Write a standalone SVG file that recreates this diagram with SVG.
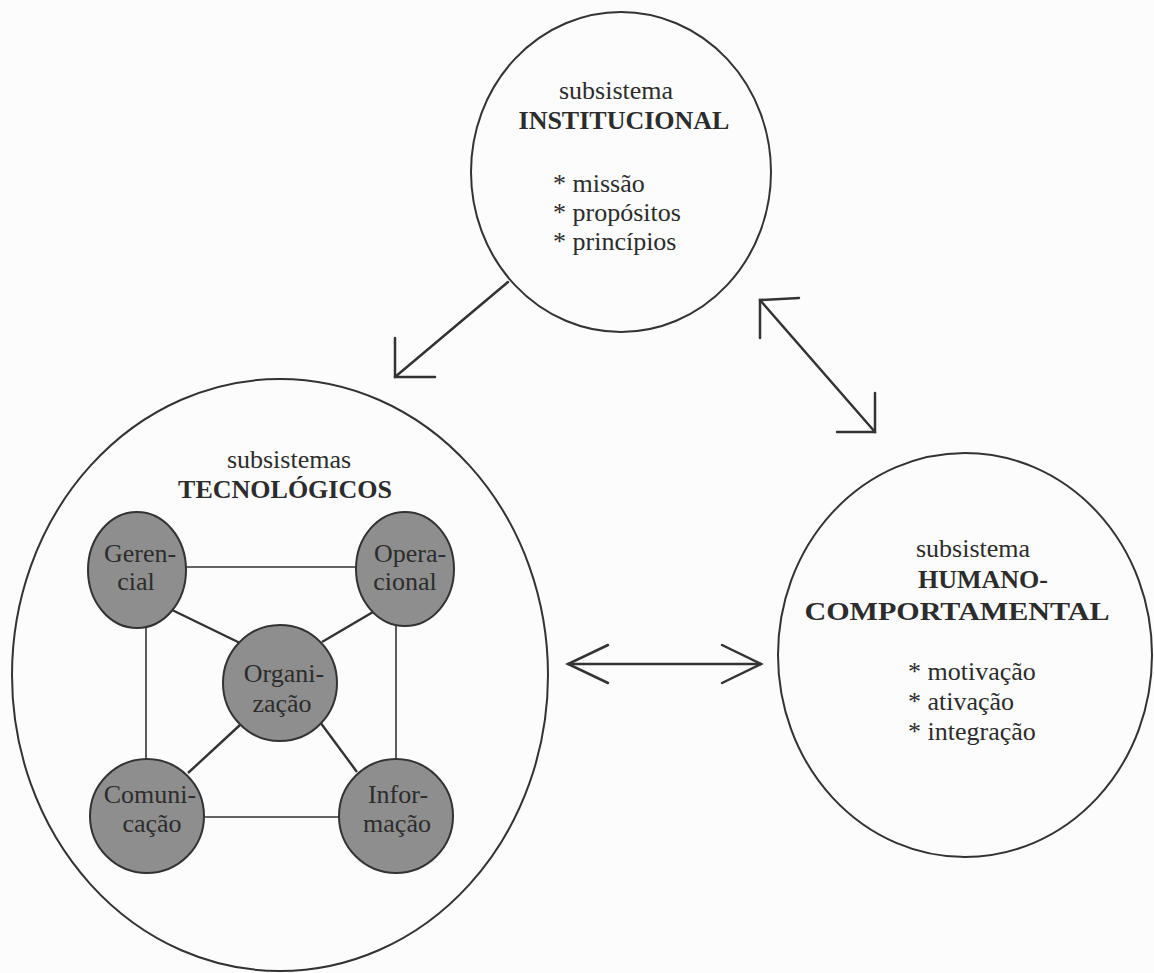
<svg xmlns="http://www.w3.org/2000/svg" width="1154" height="973" viewBox="0 0 1154 973">
  <style>
    .bg { fill: #fcfcfc; }
    .big { fill: none; stroke: #333; stroke-width: 2; }
    .sub { fill: #8e8e8e; stroke: #333; stroke-width: 2; }
    .arrow { fill: none; stroke: #333; stroke-width: 2.5; stroke-linecap: round; stroke-linejoin: miter; }
    .link { stroke: #333; stroke-width: 2.4; }
    .thin { stroke: #333; stroke-width: 1.6; }
    text { font-family: "Liberation Serif", "Times New Roman", serif; font-size: 26px; fill: #2c2c2c; }
    .c { text-anchor: middle; }
    .b { font-weight: bold; }
  </style>

  <rect class="bg" x="0" y="0" width="1154" height="973"/>

  <!-- arrows between the three subsystems -->
  <g id="connectors">
    <line class="arrow" x1="508" y1="282" x2="395" y2="377"/>
    <polyline class="arrow" points="395,338 395,377 435,377"/>

    <line class="arrow" x1="760" y1="300" x2="875" y2="432"/>
    <polyline class="arrow" points="799,298 760,300 760,338"/>
    <polyline class="arrow" points="875,393 875,432 837,432"/>

    <line class="arrow" x1="568" y1="664" x2="761" y2="664"/>
    <polyline class="arrow" points="608,645 568,664 608,683"/>
    <polyline class="arrow" points="722,645 761,664 722,683"/>
  </g>

  <g id="institucional">
    <ellipse class="big" cx="621" cy="172" rx="150" ry="160"/>
    <text class="c" x="616" y="99">subsistema</text>
    <text class="c b" x="624" y="129">INSTITUCIONAL</text>
    <text x="553" y="192">* missão</text>
    <text x="553" y="221">* propósitos</text>
    <text x="553" y="250">* princípios</text>
  </g>

  <g id="tecnologicos">
    <ellipse class="big" cx="280" cy="675" rx="268" ry="296"/>
    <text class="c" x="289" y="468">subsistemas</text>
    <text class="c b" x="285" y="498">TECNOLÓGICOS</text>

    <!-- links inside the technological subsystem -->
    <g id="tec-links">
      <line class="thin" x1="185" y1="567" x2="358" y2="567"/>
      <line class="thin" x1="146" y1="626" x2="146" y2="760"/>
      <line class="thin" x1="396" y1="625" x2="396" y2="760"/>
      <line class="thin" x1="203" y1="817" x2="340" y2="817"/>
      <line class="link" x1="168" y1="608" x2="240" y2="643"/>
      <line class="link" x1="373" y1="612" x2="322" y2="642"/>
      <line class="link" x1="240" y1="725" x2="188" y2="773"/>
      <line class="link" x1="320" y1="722" x2="357" y2="772"/>
    </g>

    <g id="gerencial">
      <ellipse class="sub" cx="137" cy="570" rx="49" ry="58"/>
      <text class="c" x="140" y="562">Geren-</text>
      <text class="c" x="136" y="590">cial</text>
    </g>
    <g id="operacional">
      <ellipse class="sub" cx="405" cy="569" rx="49" ry="57"/>
      <text class="c" x="410" y="562">Opera-</text>
      <text class="c" x="405" y="590">cional</text>
    </g>
    <g id="organizacao">
      <ellipse class="sub" cx="280" cy="683" rx="57" ry="58"/>
      <text class="c" x="284" y="682">Organi-</text>
      <text class="c" x="282" y="712">zação</text>
    </g>
    <g id="comunicacao">
      <ellipse class="sub" cx="147" cy="816" rx="57" ry="57"/>
      <text class="c" x="150" y="803">Comuni-</text>
      <text class="c" x="152" y="832">cação</text>
    </g>
    <g id="informacao">
      <ellipse class="sub" cx="396" cy="816" rx="57" ry="57"/>
      <text class="c" x="398" y="803">Infor-</text>
      <text class="c" x="397" y="832">mação</text>
    </g>
  </g>

  <g id="humano-comportamental">
    <ellipse class="big" cx="965" cy="655" rx="187" ry="202"/>
    <text class="c" x="973" y="557">subsistema</text>
    <text class="c b" x="983" y="588">HUMANO-</text>
    <text class="c b" x="957" y="620" textLength="305" lengthAdjust="spacingAndGlyphs">COMPORTAMENTAL</text>
    <text x="908" y="680">* motivação</text>
    <text x="908" y="710">* ativação</text>
    <text x="908" y="740">* integração</text>
  </g>
</svg>
